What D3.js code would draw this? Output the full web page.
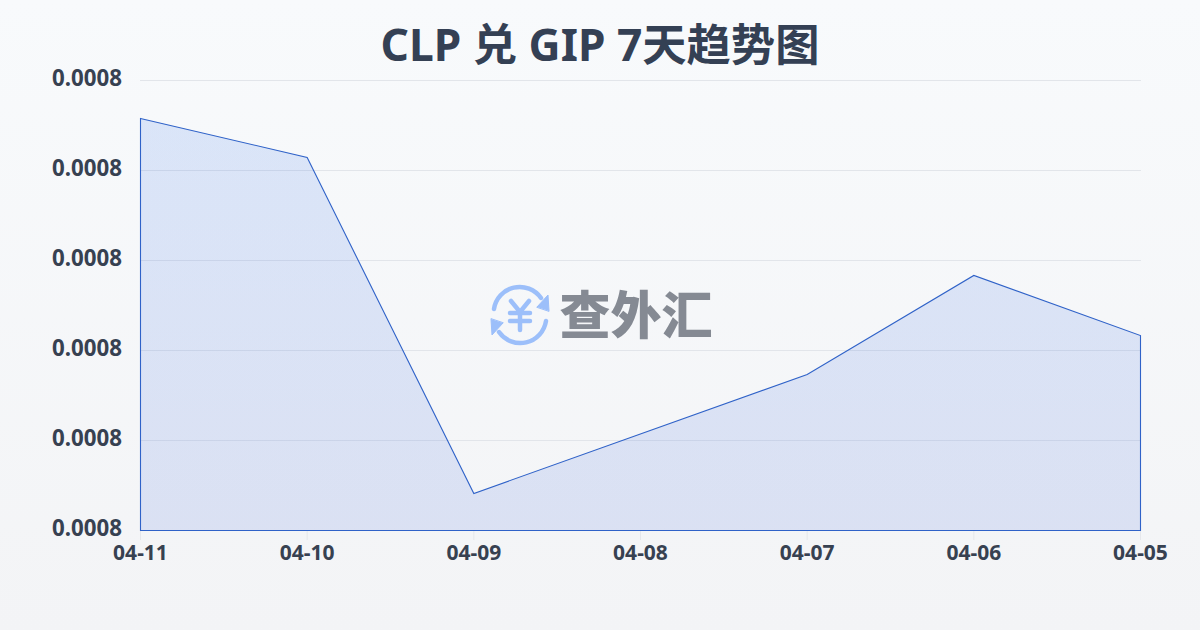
<!DOCTYPE html>
<html><head><meta charset="utf-8">
<script src="https://cdn.jsdelivr.net/npm/d3@7/dist/d3.min.js"></script>
<style>html,body{margin:0;padding:0;background:#f5f6f8}svg{display:block}</style>
</head><body><div id="c"></div>
<script>
const titleText = "CLP 兑 GIP 7天趋势图";
const categories = ["04-11","04-10","04-09","04-08","04-07","04-06","04-05"];
const dataCats = ["04-11","04-10","04-09","04-07","04-06","04-05"];
const values = [0.00083325,0.00082632,0.00076658,0.00078774,0.00080534,0.00079466];
const yTicks = [0.00076,0.000776,0.000792,0.000808,0.000824,0.00084];
const W=1200,H=630;
const x=d3.scalePoint().domain(categories).range([140.5,1140.5]);
const y=d3.scaleLinear().domain([0.00076,0.00084]).range([530.5,80.5]);
const svg=d3.select("#c").append("svg").attr("width",W).attr("height",H);
const defs=svg.append("defs");
const bg=defs.append("linearGradient").attr("id","bg").attr("x1",0).attr("x2",0).attr("y1",0).attr("y2",1);
bg.append("stop").attr("offset",0).attr("stop-color","#f8fafc");
bg.append("stop").attr("offset",1).attr("stop-color","#f3f4f6");
const ag=defs.append("linearGradient").attr("id","ag").attr("gradientUnits","userSpaceOnUse").attr("x1",0).attr("x2",0).attr("y1",118).attr("y2",530);
ag.append("stop").attr("offset",0).attr("stop-color","#2a6ce8").attr("stop-opacity",0.14);
ag.append("stop").attr("offset",1).attr("stop-color","#2a55d8").attr("stop-opacity",0.125);
svg.append("rect").attr("width",W).attr("height",H).attr("fill","url(#bg)");
svg.append("text").attr("x",600).attr("y",61).attr("text-anchor","middle")
 .attr("font-family","'Noto Sans','Noto Sans CJK SC',sans-serif").attr("font-weight",700).attr("font-size",44.3).attr("fill","#344054").text(titleText);
// grid
svg.append("g").selectAll("line").data(yTicks).join("line")
 .attr("x1",140).attr("x2",1141).attr("y1",d=>y(d)).attr("y2",d=>y(d)).attr("stroke","#e2e5ea").attr("stroke-width",1);
// area
const area=d3.area().x((d,i)=>x(dataCats[i])).y0(y(0.00076)).y1(d=>y(d));
svg.append("path").datum(values).attr("d",area).attr("fill","url(#ag)").attr("stroke","#2f62c8").attr("stroke-width",1.1);
// y labels
svg.append("g").selectAll("text").data(yTicks).join("text")
 .attr("x",122).attr("y",d=>y(d)+5.5).attr("text-anchor","end")
 .attr("font-family","'Noto Sans',sans-serif").attr("font-weight",700).attr("font-size",22.3).attr("fill","#374151")
 .text(d=>d.toFixed(4));
// x ticks
svg.append("g").selectAll("line").data(categories).join("line")
 .attr("x1",d=>x(d)).attr("x2",d=>x(d)).attr("y1",531).attr("y2",540).attr("stroke","#e5e7eb");
svg.append("g").selectAll("text").data(categories).join("text")
 .attr("x",d=>x(d)).attr("y",560).attr("text-anchor","middle")
 .attr("font-family","'Noto Sans',sans-serif").attr("font-weight",700).attr("font-size",21).attr("fill","#374151").text(d=>d);
// watermark
const wm=svg.append("g").attr("class","watermark");
const ic=wm.append("g").attr("transform","translate(520,315)").attr("fill","none").attr("stroke","#9cbffa").attr("stroke-linecap","round");
ic.append("path").attr("d","M-26,-6 A26,26 0 0 1 21,-17").attr("stroke-width",4.5);
ic.append("path").attr("d","M26,6 A26,26 0 0 1 -21,17").attr("stroke-width",4.5);
ic.append("path").attr("d","M17,-8 L28,-20 L29,-4 Z").attr("fill","#9cbffa").attr("stroke","#9cbffa").attr("stroke-width",1);
ic.append("path").attr("d","M-17,8 L-28,20 L-29,4 Z").attr("fill","#9cbffa").attr("stroke","#9cbffa").attr("stroke-width",1);
ic.append("path").attr("d","M-9,-14 L0,-3 L9,-14 M-10,-2 H10 M-10,6 H10 M0,-3 V15").attr("stroke-width",4.5);
wm.append("text").attr("x",636).attr("y",334).attr("text-anchor","middle")
 .attr("font-family","'Noto Sans CJK SC',sans-serif").attr("font-weight",900).attr("font-size",51).attr("fill","#858a93").text("查外汇");
</script></body></html>
